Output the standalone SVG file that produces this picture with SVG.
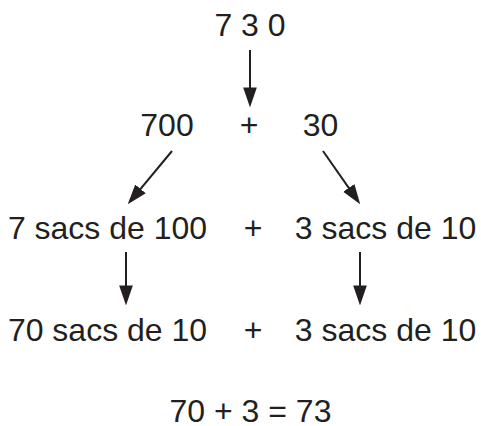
<svg xmlns="http://www.w3.org/2000/svg" width="481" height="426" viewBox="0 0 481 426">
<style>
text{font-family:"Liberation Sans",Arial,sans-serif;font-size:32px;fill:#231f20;text-anchor:middle}
.c{stroke:#231f20;stroke-width:2;fill:none}
</style>
<defs>
<marker id="ah" markerUnits="userSpaceOnUse" markerWidth="20" markerHeight="14" viewBox="0 0 19 13" refX="11" refY="6.5" orient="auto">
<path d="M0,0 L19,6.5 L0,13 z" fill="#231f20"/>
</marker>
</defs>
<g id="n730"><text x="250" y="36">7 3 0</text></g>
<g id="n700"><text x="167" y="136">700</text></g>
<g id="plus1"><text x="249" y="136">+</text></g>
<g id="n30"><text x="320.5" y="136">30</text></g>
<g id="n7s100"><text x="107.5" y="239">7 sacs de 100</text></g>
<g id="plus2"><text x="253" y="239">+</text></g>
<g id="n3s10a"><text x="385.5" y="239">3 sacs de 10</text></g>
<g id="n70s10"><text x="107.5" y="341">70 sacs de 10</text></g>
<g id="plus3"><text x="253" y="341">+</text></g>
<g id="n3s10b"><text x="385.5" y="341">3 sacs de 10</text></g>
<g id="result"><text x="250.5" y="422">70 + 3 = 73</text></g>
<g id="connectors">
<line class="c" x1="250" y1="50" x2="250" y2="99" marker-end="url(#ah)"/>
<line class="c" x1="172" y1="151" x2="133.1" y2="197.8" marker-end="url(#ah)"/>
<line class="c" x1="323" y1="151" x2="355.4" y2="197.4" marker-end="url(#ah)"/>
<line class="c" x1="126" y1="252" x2="126" y2="297" marker-end="url(#ah)"/>
<line class="c" x1="360" y1="252" x2="360" y2="297" marker-end="url(#ah)"/>
</g>
</svg>
